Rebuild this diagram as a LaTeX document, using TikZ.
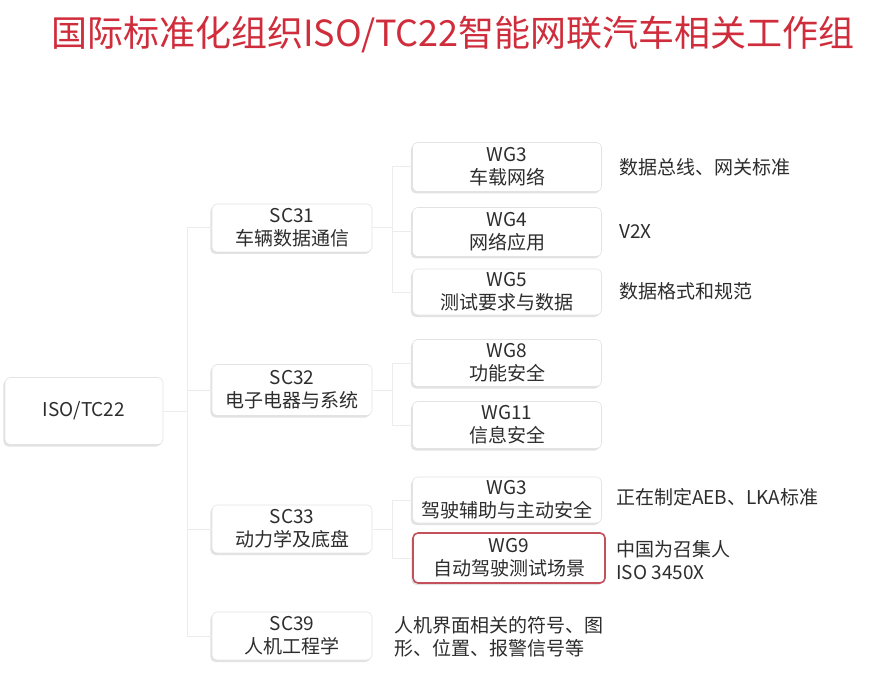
\documentclass[tikz,border=0pt]{standalone}
\usepackage{fontspec}
\setmainfont{Noto Sans CJK SC}
\usetikzlibrary{shadows}
\definecolor{titlered}{RGB}{208,45,60}
\definecolor{wgred}{RGB}{196,80,92}
\definecolor{txt}{RGB}{45,45,45}
\definecolor{linkgray}{RGB}{236,236,236}
\tikzset{
  box/.style={draw=gray!22, line width=0.6pt, fill=white, rounded corners=5pt,
    align=center, inner sep=0pt, text=txt,
    font=\fontsize{19}{23}\selectfont,
    drop shadow={shadow xshift=-1.6pt, shadow yshift=-2pt, opacity=0.28, fill=gray!80}},
  redbox/.style={box, draw=wgred, line width=1.6pt},
  note/.style={anchor=west, align=left, inner sep=0pt, text=txt, font=\fontsize{19}{23}\selectfont},
  link/.style={draw=linkgray, line width=1pt}
}
\begin{document}
\begin{tikzpicture}[x=1pt,y=-1pt]
\useasboundingbox (0,0) rectangle (874,684);
\fill[white] (0,0) rectangle (874,684);
\node[text=titlered, font=\fontsize{36}{40}\selectfont, inner sep=0pt] (title) at (453,35) {国际标准化组织ISO/TC22智能网联汽车相关工作组};

\node[box, minimum width=158pt, minimum height=67pt] (iso) at (84,411) {ISO/TC22};

\node[box, minimum width=160pt, minimum height=48pt] (sc31) at (292,228) {SC31\\车辆数据通信};
\node[box, minimum width=160pt, minimum height=51pt] (sc32) at (292,390) {SC32\\电子电器与系统};
\node[box, minimum width=160pt, minimum height=48pt] (sc33) at (292,529) {SC33\\动力学及底盘};
\node[box, minimum width=160pt, minimum height=48pt] (sc39) at (292,636) {SC39\\人机工程学};

\node[box, minimum width=189pt, minimum height=49pt] (wg3) at (507,167) {WG3\\车载网络};
\node[box, minimum width=189pt, minimum height=49pt] (wg4) at (507,232) {WG4\\网络应用};
\node[box, minimum width=189pt, minimum height=46pt] (wg5) at (507,292) {WG5\\测试要求与数据};
\node[box, minimum width=189pt, minimum height=47pt] (wg8) at (507,363) {WG8\\功能安全};
\node[box, minimum width=189pt, minimum height=47pt] (wg11) at (507,425) {WG11\\信息安全};
\node[box, minimum width=189pt, minimum height=46pt] (wg3b) at (507,500) {WG3\\驾驶辅助与主动安全};
\node[redbox, minimum width=192pt, minimum height=50pt] (wg9) at (509,558) {WG9\\自动驾驶测试场景};

\node[note] (n1) at (619,167) {数据总线、网关标准};
\node[note] (n2) at (619,232) {V2X};
\node[note] (n3) at (619,291) {数据格式和规范};
\node[note] (n4) at (616,497) {正在制定AEB、LKA标准};
\node[note] (n5) at (616,560) {中国为召集人\\ISO 3450X};
\node[note] (n6) at (394,637) {人机界面相关的符号、图\\形、位置、报警信号等};

% connectors
\coordinate (j0) at ([xshift=24pt]iso.east);
\draw[link] (iso.east) -- (j0);
\foreach \s in {sc31,sc32,sc33,sc39}{
  \draw[link] (j0) |- (\s.west);
}
\foreach \s/\w in {sc31/wg3,sc31/wg4,sc31/wg5,sc32/wg8,sc32/wg11,sc33/wg3b,sc33/wg9}{
  \draw[link] (\s.east) -- ++(20pt,0) |- (\w.west);
}
\end{tikzpicture}
\end{document}
